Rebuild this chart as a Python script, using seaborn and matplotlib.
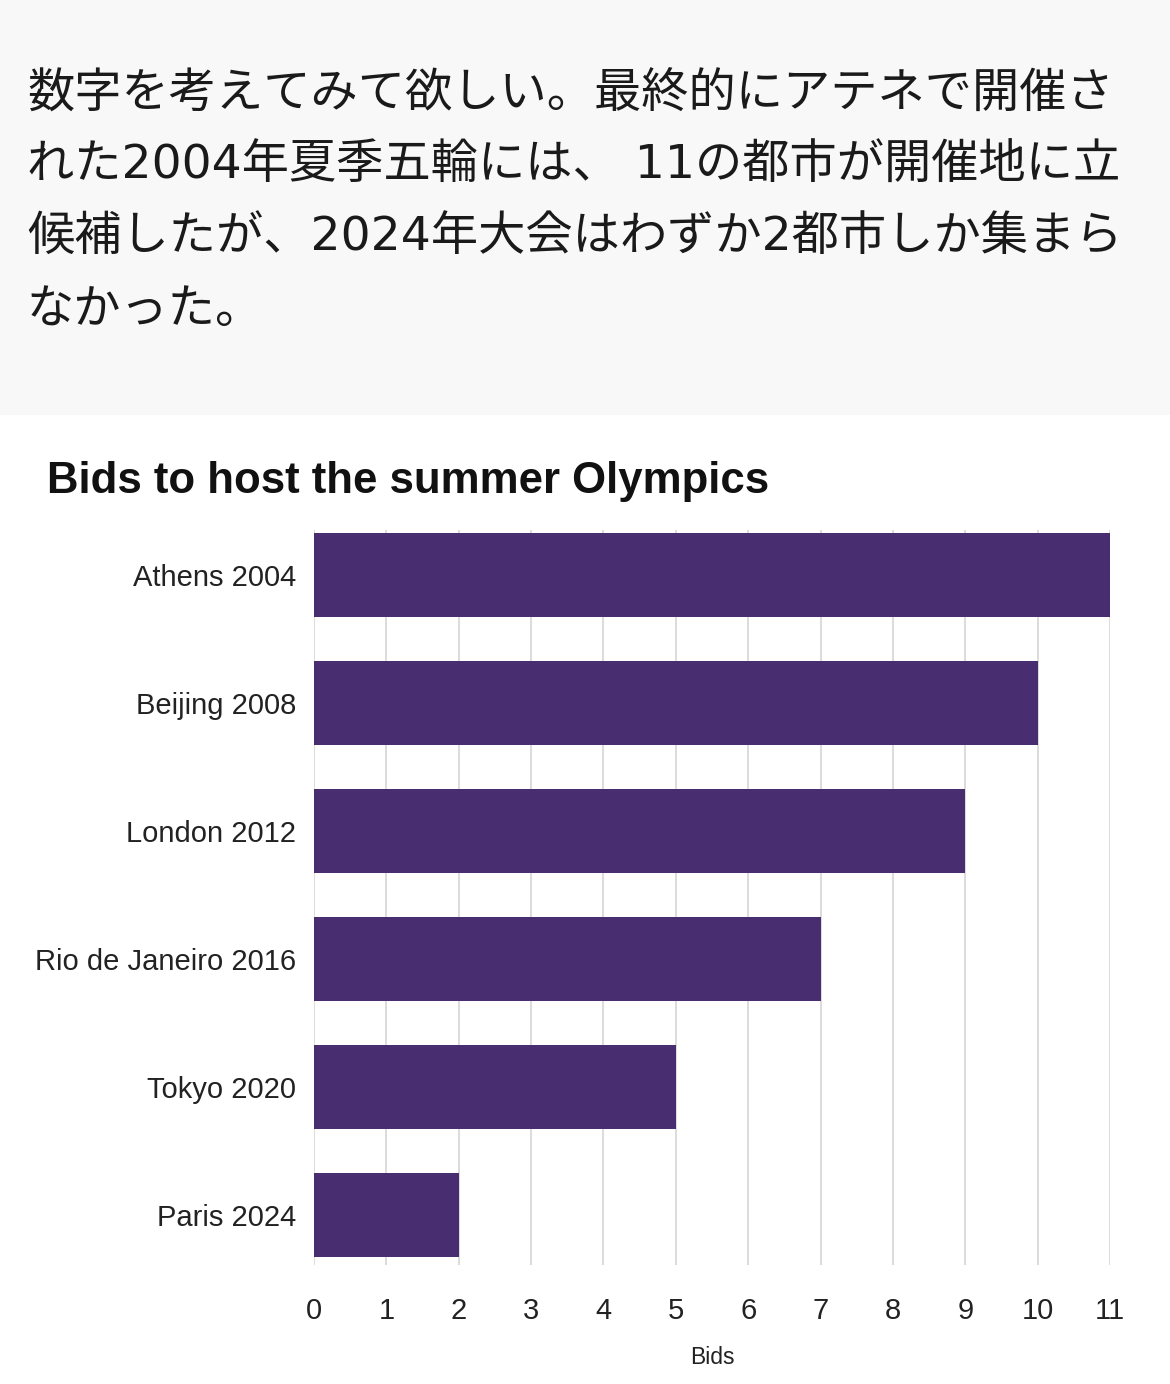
import matplotlib
matplotlib.use("Agg")
import matplotlib.pyplot as plt
import seaborn as sns
import pandas as pd
from matplotlib.patches import Rectangle

cities = ["Athens 2004", "Beijing 2008", "London 2012",
          "Rio de Janeiro 2016", "Tokyo 2020", "Paris 2024"]
bids = [11, 10, 9, 7, 5, 2]
x_ticks = list(range(0, 12))

title = "Bids to host the summer Olympics"
x_label = "Bids"
intro_lines = [
    "数字を考えてみて欲しい。最終的にアテネで開催さ",
    "れた2004年夏季五輪には、 11の都市が開催地に立",
    "候補したが、2024年大会はわずか2都市しか集まら",
    "なかった。",
]

sns.set_theme(style="whitegrid")
plt.rcParams["font.family"] = ["Liberation Sans", "DejaVu Sans"]

df = pd.DataFrame({"city": cities, "bids": bids})

W, H = 1170, 1384
fig = plt.figure(figsize=(W / 100, H / 100), dpi=100)
fig.patch.set_facecolor("white")

# light grey band behind the intro text
fig.add_artist(Rectangle((0, 1 - 415 / H), 1, 415 / H, transform=fig.transFigure,
                         facecolor="#f8f8f8", edgecolor="none", zorder=0))

line_y = [95, 166, 238, 310]
for txt, y in zip(intro_lines, line_y):
    fig.text(27 / W, 1 - y / H, txt, fontsize=34, color="#1a1a1a",
             family=["DejaVu Sans", "Noto Sans CJK JP"], ha="left", va="center")

ax_left, ax_right = 314, 1110
ax_top, ax_bottom = 530, 1265
ax = fig.add_axes([ax_left / W, 1 - ax_bottom / H, (ax_right - ax_left) / W,
                   (ax_bottom - ax_top) / H])
ax.set_facecolor("white")

sns.barplot(data=df, x="bids", y="city", orient="h", color="#482e70",
            width=0.656, saturation=1, ax=ax, edgecolor="none")

ax.set_xlim(0, 11)
ax.set_ylim(5.39, -0.352)
ax.set_xticks(x_ticks)
ax.set_xticklabels([str(t) for t in x_ticks])
ax.grid(axis="x", color="#d9d9d9", linewidth=1.3)
ax.grid(axis="y", visible=False)
ax.set_axisbelow(True)
for s in ax.spines.values():
    s.set_visible(False)
ax.tick_params(axis="x", length=0, pad=23, labelsize=21, labelcolor="#222222")
ax.tick_params(axis="y", length=0, pad=13, labelsize=21, labelcolor="#222222")
ax.set_ylabel("")
ax.set_xlabel(x_label, fontsize=16.5, color="#222222", labelpad=15)

fig.text(47 / W, 1 - 481 / H, title, fontsize=31.5, fontweight="bold",
         color="#111111", ha="left", va="center")

fig.savefig("out.png", dpi=100, facecolor=fig.get_facecolor())
